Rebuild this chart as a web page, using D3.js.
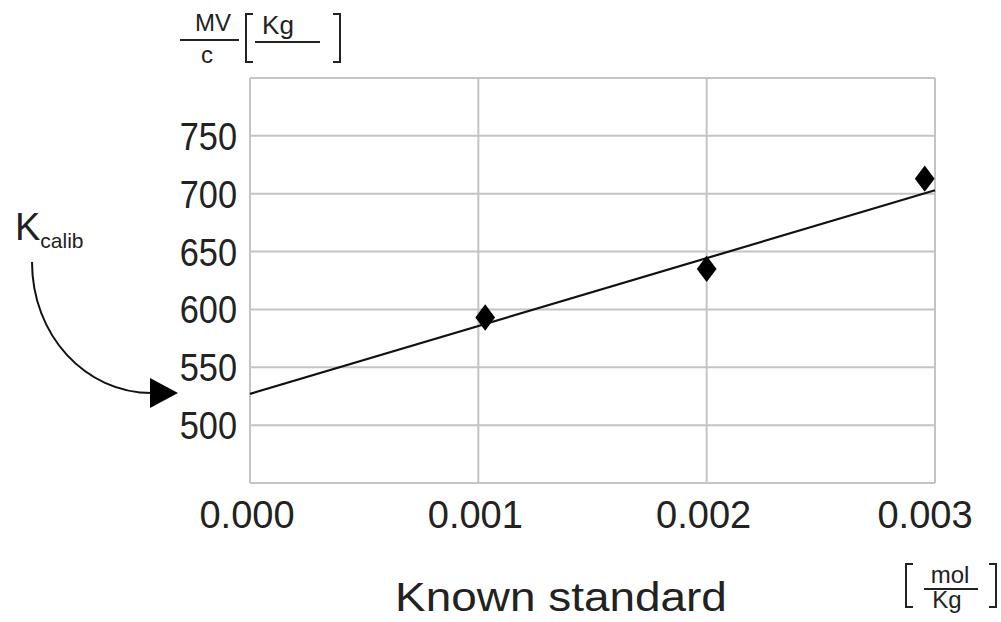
<!DOCTYPE html>
<html>
<head>
<meta charset="utf-8">
<script src="https://cdn.jsdelivr.net/npm/d3@7"></script>
<style>
  html, body { margin: 0; padding: 0; background: #fff; }
  svg { display: block; }
  text { font-family: "Liberation Sans", Arial, sans-serif; fill: #222; }
</style>
</head>
<body>
<svg id="chart" width="1001" height="622"></svg>
<script>
// Calibration standards: concentration (mol/Kg) vs. MV/c (Kg)
const concentration = [0.00103, 0.002, 0.002955];
const mvOverC = [593, 635, 713];

// Straight-line fit through the standards, evaluated at the axis ends
const fitX = [0, 0.003];
const fitY = [527, 703];

// Axis ticks
const xTicks = [0, 0.001, 0.002, 0.003];
const xTickLabels = ["0.000", "0.001", "0.002", "0.003"];
const yGrid = [450, 500, 550, 600, 650, 700, 750, 800];
const yTickLabels = ["500", "550", "600", "650", "700", "750"];

const svg = d3.select("#chart");
const plot = { left: 250, right: 935, top: 78, bottom: 483 };

const x = d3.scaleLinear().domain([0, 0.003]).range([plot.left, plot.right]);
const y = d3.scaleLinear().domain([450, 800]).range([plot.bottom, plot.top]);

const gridColor = "#c4c4c4";

// Grid lines
svg.append("g").selectAll("line").data(yGrid).join("line")
  .attr("x1", plot.left).attr("x2", plot.right)
  .attr("y1", d => y(d)).attr("y2", d => y(d))
  .attr("stroke", gridColor).attr("stroke-width", 2);

svg.append("g").selectAll("line").data(xTicks).join("line")
  .attr("x1", d => x(d)).attr("x2", d => x(d))
  .attr("y1", plot.top).attr("y2", plot.bottom)
  .attr("stroke", gridColor).attr("stroke-width", 2);

// Y tick labels (slightly condensed face)
svg.append("g").selectAll("text").data(yTickLabels).join("text")
  .attr("transform", d => `translate(${plot.left - 13},${y(+d)}) scale(0.88,1)`)
  .attr("dy", "0.36em")
  .attr("text-anchor", "end")
  .attr("font-size", 39)
  .text(d => d);

// X tick labels
svg.append("g").selectAll("text").data(xTicks).join("text")
  .attr("x", (d, i) => x(d) - (i === 3 ? 10 : 3))
  .attr("y", plot.bottom + 45)
  .attr("text-anchor", "middle")
  .attr("font-size", 38)
  .text((d, i) => xTickLabels[i]);

// Fit line
const line = d3.line().x(d => x(d[0])).y(d => y(d[1]));
svg.append("path")
  .datum(d3.zip(fitX, fitY))
  .attr("d", line)
  .attr("fill", "none")
  .attr("stroke", "#111")
  .attr("stroke-width", 2.2);

// Diamond markers (a little taller than wide)
const diamond = d3.symbol().type(d3.symbolDiamond).size(200);
svg.append("g").selectAll("path").data(d3.zip(concentration, mvOverC)).join("path")
  .attr("d", diamond)
  .attr("transform", d => `translate(${x(d[0])},${y(d[1])}) scale(1.3,1)`)
  .attr("fill", "#000");

// Y-axis unit:  MV/c [ Kg ]
const yu = svg.append("g");
yu.append("text").attr("x", 213).attr("y", 31).attr("text-anchor", "middle").attr("font-size", 24).text("MV");
yu.append("line").attr("x1", 180).attr("x2", 239).attr("y1", 40).attr("y2", 40).attr("stroke", "#222").attr("stroke-width", 2);
yu.append("text").attr("x", 207).attr("y", 63).attr("text-anchor", "middle").attr("font-size", 24).text("c");
yu.append("path").attr("d", "M253,14 H246 V62 H253").attr("fill", "none").attr("stroke", "#222").attr("stroke-width", 2);
yu.append("text").attr("x", 278).attr("y", 34).attr("text-anchor", "middle").attr("font-size", 26).text("Kg");
yu.append("line").attr("x1", 255).attr("x2", 320).attr("y1", 42).attr("y2", 42).attr("stroke", "#222").attr("stroke-width", 2);
yu.append("path").attr("d", "M333,14 H340 V62 H333").attr("fill", "none").attr("stroke", "#222").attr("stroke-width", 2);

// X-axis unit:  [ mol / Kg ]
const xu = svg.append("g");
xu.append("path").attr("d", "M913,564 H906 V607 H913").attr("fill", "none").attr("stroke", "#222").attr("stroke-width", 2);
xu.append("text").attr("x", 950).attr("y", 583).attr("text-anchor", "middle").attr("font-size", 24).text("mol");
xu.append("line").attr("x1", 924).attr("x2", 978).attr("y1", 589).attr("y2", 589).attr("stroke", "#222").attr("stroke-width", 2);
xu.append("text").attr("x", 947).attr("y", 608).attr("text-anchor", "middle").attr("font-size", 24).text("Kg");
xu.append("path").attr("d", "M989,564 H996 V607 H989").attr("fill", "none").attr("stroke", "#222").attr("stroke-width", 2);

// X-axis title
svg.append("text")
  .attr("transform", "translate(561,611) scale(1.12,1)")
  .attr("text-anchor", "middle")
  .attr("font-size", 41)
  .attr("fill", "#111")
  .text("Known standard");

// K_calib annotation with curved arrow to the intercept
const k = svg.append("text").attr("x", 15).attr("y", 240).attr("font-size", 38);
k.append("tspan").text("K");
k.append("tspan").attr("font-size", 21).attr("dy", 8).text("calib");

svg.append("path")
  .attr("d", "M32,262 C32,335 85,393 152,393")
  .attr("fill", "none").attr("stroke", "#111").attr("stroke-width", 2);
svg.append("path")
  .attr("d", "M150,378 L178,393 L150,408 Z")
  .attr("fill", "#000");
</script>
</body>
</html>
